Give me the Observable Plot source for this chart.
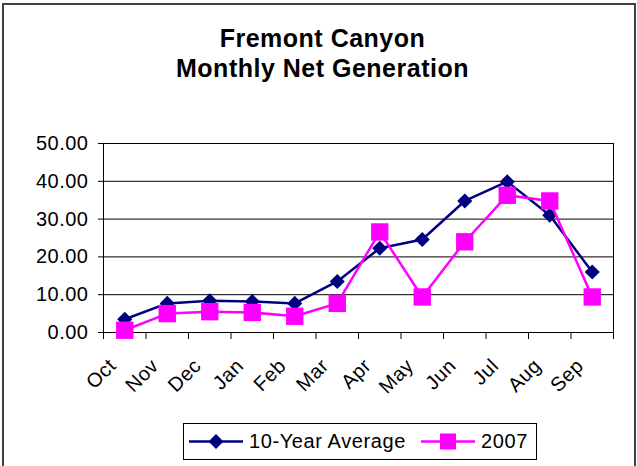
<!DOCTYPE html>
<html><head><meta charset="utf-8">
<script src="https://cdn.jsdelivr.net/npm/d3@7"></script>
<script src="https://cdn.jsdelivr.net/npm/@observablehq/plot@0.6"></script>
<style>
body{margin:0;width:637px;height:466px;overflow:hidden;background:#fff;font-family:"Liberation Sans",Arial,sans-serif;position:relative}
#frame{position:absolute;left:2px;top:3px;width:630px;height:480px;border:2px solid #404040}
#title{position:absolute;left:4px;width:637px;top:23px;text-align:center;font-weight:bold;font-size:25px;line-height:30px;letter-spacing:0.5px;color:#000}
#chart{position:absolute;left:0;top:110px}
#legend{position:absolute;left:183px;top:423px;width:352px;height:35px;border:1px solid #000;font-size:20px;letter-spacing:0.6px;background:#fff}
#legend .item{position:absolute;top:0;height:35px;display:flex;align-items:center}
#legend svg{display:block}
</style>
</head><body>
<div id="frame"></div>
<div id="title">Fremont Canyon<br>Monthly Net Generation</div>
<div id="chart"></div>
<div id="legend"></div>
<script>
const months = ["Oct","Nov","Dec","Jan","Feb","Mar","Apr","May","Jun","Jul","Aug","Sep"];
const avg10 = [3.5, 7.7, 8.4, 8.2, 7.7, 13.5, 22.3, 24.6, 34.8, 39.9, 31.0, 16.0];
const y2007 = [0.6, 5.0, 5.5, 5.3, 4.3, 7.7, 26.6, 9.4, 24.0, 36.3, 34.8, 9.4];
const yTicks = [0, 10, 20, 30, 40, 50];
const seriesNames = ["10-Year Average", "2007"];
const seriesColors = ["#000080", "#FF00FF"];

const idx = months.map((m, i) => i);
const xc = i => i + 0.5;

const chart = Plot.plot({
  width: 637, height: 305,
  marginLeft: 103, marginRight: 24, marginTop: 33, marginBottom: 83,
  x: {type: "linear", domain: [0, months.length]},
  y: {domain: [0, 50]},
  style: {fontFamily: "'Liberation Sans', Arial, sans-serif", fontSize: "20px", letterSpacing: "0.5px", color: "#000", background: "transparent", overflow: "visible"},
  marks: [
    Plot.ruleY(yTicks, {stroke: "#000", strokeWidth: 1}),
    Plot.frame({stroke: "#000"}),
    Plot.axisY({ticks: yTicks, tickFormat: d3.format(".2f"), tickSize: 5, tickPadding: 10, label: null, fontSize: 20}),
    Plot.axisX({ticks: d3.range(months.length + 1), tickFormat: () => "", tickSize: 7, label: null}),
    Plot.axisX({ticks: idx.map(xc), tickFormat: v => months[Math.floor(v)], tickSize: 0, tickRotate: -45, tickPadding: 30, dx: -12, label: null, fontSize: 20}),
    Plot.line(idx, {x: xc, y: i => avg10[i], stroke: seriesColors[0], strokeWidth: 2.5}),
    Plot.dot(idx, {x: xc, y: i => avg10[i], symbol: "diamond2", r: 6.8, fill: seriesColors[0], stroke: "none"}),
    Plot.line(idx, {x: xc, y: i => y2007[i], stroke: seriesColors[1], strokeWidth: 2.5}),
    Plot.dot(idx, {x: xc, y: i => y2007[i], symbol: "square", r: 9.8, fill: seriesColors[1], stroke: "none"})
  ]
});
document.getElementById("chart").appendChild(chart);

// legend
const legend = document.getElementById("legend");
const itemLeft = [5, 237];
const symbols = ["diamond", "square"];
seriesNames.forEach((name, k) => {
  const item = document.createElement("div");
  item.className = "item";
  item.style.left = itemLeft[k] + "px";
  const c = seriesColors[k];
  const marker = symbols[k] === "diamond"
    ? `<polygon points="27,10 34.5,17.5 27,25 19.5,17.5" fill="${c}"/>`
    : `<rect x="19" y="9.5" width="16" height="16" fill="${c}"/>`;
  item.innerHTML = `<svg width="54" height="35"><line x1="0" x2="54" y1="17.5" y2="17.5" stroke="${c}" stroke-width="2.5"/>${marker}</svg><span style="margin-left:6px">${name}</span>`;
  legend.appendChild(item);
});
</script>
</body></html>
